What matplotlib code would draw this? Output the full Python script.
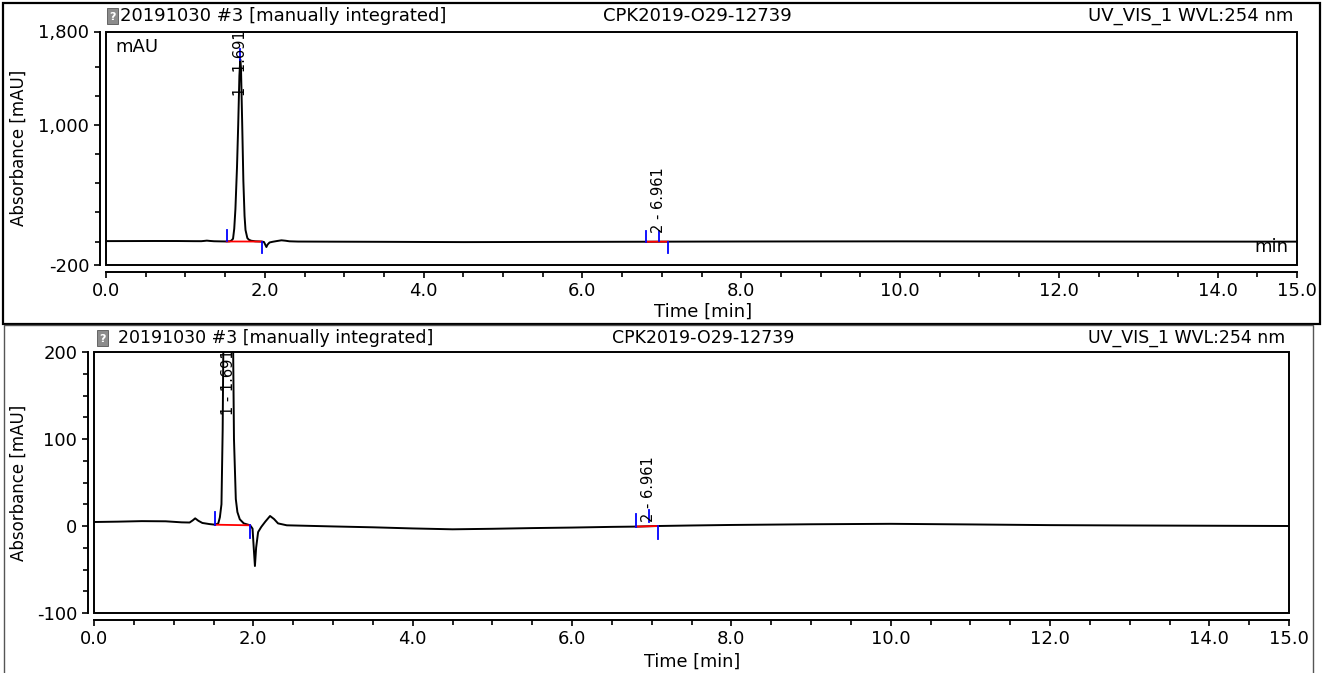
import matplotlib
matplotlib.use("Agg")
import matplotlib.pyplot as plt
from matplotlib.patches import Rectangle
from matplotlib.ticker import FixedLocator

plt.rcParams['font.family'] = ['DejaVu Sans']

W, H = 1323, 673

# chromatogram trace (min, mAU)
time_min = [0.00, 0.30, 0.60, 0.90, 1.10, 1.20, 1.24, 1.27, 1.31, 1.36, 1.45, 1.52,
            1.56, 1.58, 1.60, 1.615, 1.63, 1.65, 1.665, 1.68, 1.691, 1.70, 1.715,
            1.73, 1.745, 1.757, 1.78, 1.80, 1.83, 1.88, 1.96, 1.99, 2.005, 2.02,
            2.035, 2.06, 2.10, 2.15, 2.21, 2.26, 2.31, 2.42, 3.0, 3.5, 4.0, 4.5,
            5.0, 5.5, 6.0, 6.5, 6.8, 7.08, 7.5, 8.0, 9.0, 10.0, 11.0, 12.0, 13.0,
            14.0, 15.0]
absorbance = [4.6, 5.0, 5.6, 5.4, 4.2, 4.0, 6.5, 8.8, 6.0, 3.5, 2.2, 1.5,
              3.0, 10.0, 25.0, 110.0, 280.0, 640.0, 1000.0, 1420.0, 1560.0, 1490.0, 1020.0,
              520.0, 220.0, 100.0, 31.0, 16.0, 7.7, 3.0, 0.8, -3.0, -25.0, -46.0,
              -25.0, -7.0, -1.0, 5.0, 11.5, 8.0, 3.0, 0.8, -0.5, -1.5, -2.8, -3.8,
              -3.2, -2.4, -1.8, -1.0, -0.7, 0.0, 0.6, 1.2, 2.0, 2.5, 1.8, 1.0, 0.6,
              0.3, 0.0]

# integrated peaks
peak_names = ["1 - 1.691", "2 - 6.961"]
peak_rt = [1.691, 6.961]
peak_apex = [1560.0, 5.0]
peak_start = [1.52, 6.80]
peak_end = [1.96, 7.08]
peak_start_y = [1.5, -0.7]
peak_end_y = [0.8, 0.0]

header_left = "20191030 #3 [manually integrated]"
header_mid = "CPK2019-O29-12739"
header_right = "UV_VIS_1 WVL:254 nm"

x_major = [0, 2, 4, 6, 8, 10, 12, 14, 15]
x_minor = [0.5, 1, 1.5, 2.5, 3, 3.5, 4.5, 5, 5.5, 6.5, 7, 7.5, 8.5, 9, 9.5,
           10.5, 11, 11.5, 12.5, 13, 13.5, 14.5]

top_yticks = [-200, 1000, 1800]
top_ylabels = ["-200", "1,000", "1,800"]
top_yminor = [0, 250, 500, 750, 1250, 1500]

bot_yticks = [-100, 0, 100, 200]
bot_ylabels = ["-100", "0", "100", "200"]
bot_yminor = [-75, -50, -25, 25, 50, 75, 125, 150, 175]


def px(x, y):
    return x / W, 1 - y / H


def rect(x0, y0, x1, y1):
    return [x0 / W, 1 - y1 / H, (x1 - x0) / W, (y1 - y0) / H]


def panel(box, ylim, yticks, ylabels, yminor, label_y, fs_tick):
    ax = fig.add_axes(rect(*box))
    ax.plot(time_min, absorbance, color="black", lw=1.4, zorder=3)
    ax.set_xlim(0, 15)
    ax.set_ylim(*ylim)
    span = ylim[1] - ylim[0]
    tl = 0.048 * span
    for i in range(len(peak_names)):
        ax.plot([peak_start[i], peak_end[i]], [peak_start_y[i], peak_end_y[i]],
                color="red", lw=1.3, zorder=4)
        ax.plot([peak_start[i]] * 2, [peak_start_y[i], peak_start_y[i] + tl],
                color="blue", lw=1.3, zorder=4)
        ax.plot([peak_end[i]] * 2, [peak_end_y[i], peak_end_y[i] - tl],
                color="blue", lw=1.3, zorder=4)
        ax.plot([peak_rt[i]] * 2, [peak_apex[i], peak_apex[i] + tl * 0.9],
                color="blue", lw=1.3, zorder=4)
        ax.text(peak_rt[i], label_y[i], peak_names[i], rotation=90, ha="center",
                va="bottom", fontsize=10.5, clip_on=True, zorder=5)
    for s in ["top", "right"]:
        ax.spines[s].set_visible(False)
    ax.spines["left"].set_position(("outward", 4.5))
    ax.spines["bottom"].set_position(("outward", 5))
    ax.spines["left"].set_linewidth(1.4)
    ax.spines["bottom"].set_linewidth(1.4)
    ax.add_patch(Rectangle((0, 0), 1, 1, transform=ax.transAxes, fill=False,
                           lw=1.4, edgecolor="black", clip_on=False, zorder=6))
    ax.set_xticks(x_major)
    ax.set_xticklabels([f"{v:.1f}" for v in x_major])
    ax.xaxis.set_minor_locator(FixedLocator(x_minor))
    ax.set_yticks(yticks)
    ax.set_yticklabels(ylabels)
    ax.yaxis.set_minor_locator(FixedLocator(yminor))
    ax.tick_params(axis="both", which="major", length=4.5, width=1.2,
                   labelsize=fs_tick, pad=3)
    ax.tick_params(axis="both", which="minor", length=3.5, width=1.2)
    ax.set_facecolor("none")
    return ax


fig = plt.figure(figsize=(W / 100, H / 100), dpi=100)

# outer frames
fig.patches.append(Rectangle(px(3, 324), 1317 / W, 321 / H, transform=fig.transFigure,
                             fill=False, lw=1.6, edgecolor="black"))
fig.patches.append(Rectangle(px(4, 680), 1309 / W, 355 / H, transform=fig.transFigure,
                             fill=False, lw=1.0, edgecolor="#555555"))

ax1 = panel((106, 31.5, 1297, 265), (-200, 1800), top_yticks, top_ylabels,
            top_yminor, [1250, 75], 13)
ax2 = panel((94, 352, 1289, 613), (-100, 200), bot_yticks, bot_ylabels,
            bot_yminor, [128, 4.5], 13)

ax1.set_ylabel("Absorbance [mAU]", fontsize=12)
ax2.set_ylabel("Absorbance [mAU]", fontsize=12)
ax1.yaxis.set_label_coords(-78 / 1191, 0.5)
ax2.yaxis.set_label_coords(-66 / 1195, 0.5)
fig.text(*px(703, 312), "Time [min]", ha="center", va="center", fontsize=13)
fig.text(*px(692, 662), "Time [min]", ha="center", va="center", fontsize=12.7)

ax1.text(*px(115, 47), "mAU", transform=fig.transFigure, ha="left", va="center",
         fontsize=13)
ax1.text(*px(1288, 247), "min", transform=fig.transFigure, ha="right", va="center",
         fontsize=13)

# headers
for y, x_icon, x_left, x_mid, x_right, fs in [(16, 107, 120, 697, 1293, 13),
                                              (338, 97, 118, 703, 1285, 12.5)]:
    fig.patches.append(Rectangle(px(x_icon, y + 8), 11 / W, 16 / H,
                                 transform=fig.transFigure, facecolor="#8c8c8c",
                                 edgecolor="#555555", lw=0.6))
    fig.text(*px(x_icon + 5.5, y + 1), "?", ha="center", va="center", fontsize=8,
             color="white", weight="bold")
    fig.text(*px(x_left, y), header_left, ha="left", va="center", fontsize=fs)
    fig.text(*px(x_mid, y), header_mid, ha="center", va="center", fontsize=fs)
    fig.text(*px(x_right, y), header_right, ha="right", va="center", fontsize=fs)

fig.savefig("out.png", dpi=100, facecolor="white")
